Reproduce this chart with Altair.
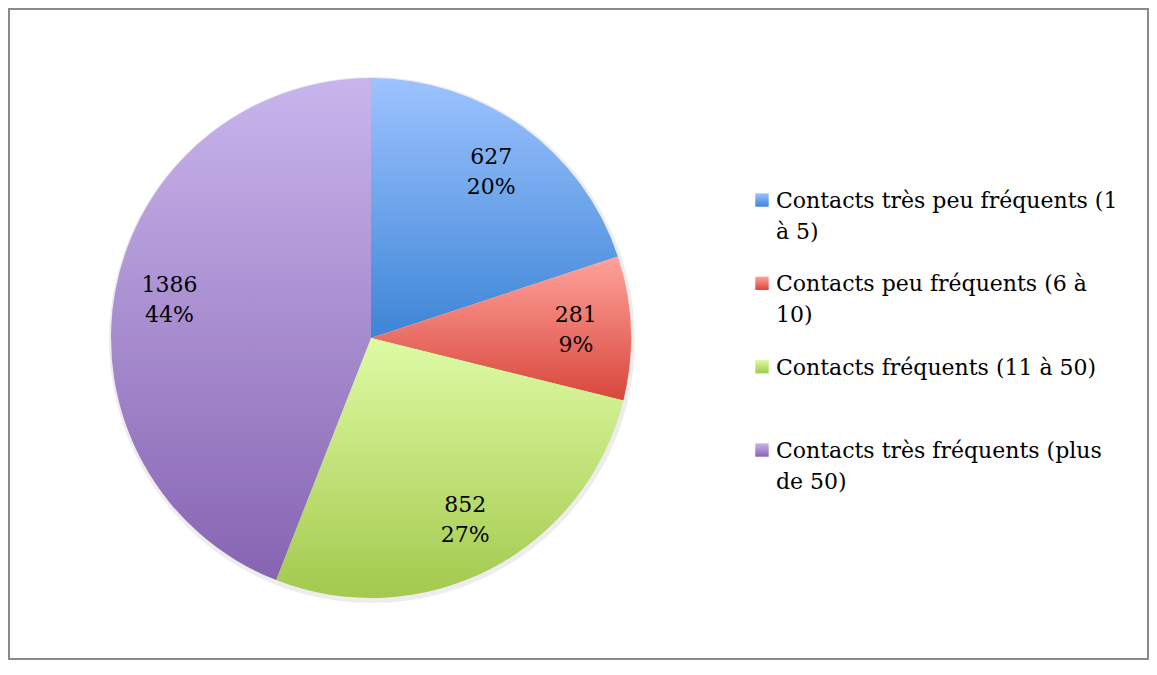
import altair as alt
import pandas as pd

# ---- data ----
categories = [
    "Contacts très peu fréquents (1 à 5)",
    "Contacts peu fréquents (6 à 10)",
    "Contacts fréquents (11 à 50)",
    "Contacts très fréquents (plus de 50)",
]
legend_labels = [
    "Contacts très peu fréquents (1\nà 5)",
    "Contacts peu fréquents (6 à\n10)",
    "Contacts fréquents (11 à 50)",
    "Contacts très fréquents (plus\nde 50)",
]
values = [627, 281, 852, 1386]
percents = ["20%", "9%", "27%", "44%"]

# gradient colours (top, bottom) per slice
top_colors = ["#9dc3ff", "#ffa29b", "#defba4", "#c9b5ec"]
bottom_colors = ["#3d85d6", "#d9473b", "#a3c94d", "#8664b2"]

FONT = "DejaVu Serif"
total = sum(values)

df = pd.DataFrame({
    "order": list(range(len(categories))),
    "category": categories,
    "legend": legend_labels,
    "value": values,
    "label": [f"{v}\n{p}" for v, p in zip(values, percents)],
})

CX, CY, R = 362, 329, 260

base = alt.Chart(df).transform_window(
    cum="sum(value)", sort=[alt.SortField("order")]
).transform_calculate(
    start="datum.cum - datum.value",
    mid="datum.cum - datum.value / 2",
)

theta_scale = alt.Scale(domain=[0, total])


def grad(i):
    return alt.LinearGradient(
        gradient="linear",
        stops=[
            alt.GradientStop(color=top_colors[i], offset=0),
            alt.GradientStop(color=bottom_colors[i], offset=1),
        ],
        x1=0, x2=0, y1=0, y2=1,
    )


layers = []

# soft shadow behind the pie
shadow = base.transform_filter("datum.order == 0").mark_arc(
    outerRadius=R + 3, innerRadius=0, theta=0, theta2=6.2832,
    color="#000000", opacity=0.07,
).encode(x=alt.value(CX + 1), y=alt.value(CY + 2))
layers.append(shadow)

for i in range(len(categories)):
    arc = base.transform_filter(f"datum.order == {i}").mark_arc(
        outerRadius=R, innerRadius=0, color=grad(i)
    ).encode(
        theta=alt.Theta("start:Q", scale=theta_scale, stack=False),
        theta2="cum:Q",
        x=alt.value(CX),
        y=alt.value(CY),
    )
    layers.append(arc)

labels = base.mark_text(
    radius=205, font=FONT, fontSize=22, lineBreak="\n", lineHeight=30,
    align="center", baseline="middle", dy=-15, color="#000000",
).encode(
    theta=alt.Theta("mid:Q", scale=theta_scale, stack=False),
    text="label:N",
    x=alt.value(CX),
    y=alt.value(CY),
)
layers.append(labels)

leg_y = alt.Y("order:O", axis=None,
              scale=alt.Scale(type="point", range=[191, 441], padding=0))

for i in range(len(categories)):
    sq = base.transform_filter(f"datum.order == {i}").mark_square(
        size=180, color=grad(i), opacity=1
    ).encode(x=alt.value(753), y=leg_y)
    layers.append(sq)

leg_text = base.mark_text(
    font=FONT, fontSize=22, lineBreak="\n", lineHeight=31,
    align="left", baseline="alphabetic", dy=8, color="#000000",
).encode(x=alt.value(767), y=leg_y, text="legend:N")
layers.append(leg_text)

chart = alt.layer(*layers).properties(
    width=1139, height=650, padding=1,
    autosize=alt.AutoSizeParams(type="none"),
).configure_view(stroke="#8a8a8a", strokeWidth=2)

chart.save("out.html", embed_options={"renderer": "svg", "actions": False})
